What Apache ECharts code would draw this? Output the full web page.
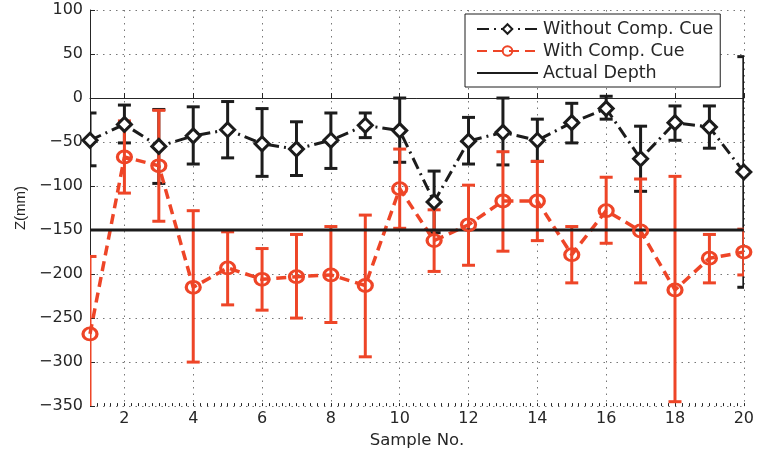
<!DOCTYPE html>
<html><head><meta charset="utf-8">
<script src="https://cdn.jsdelivr.net/npm/echarts@6/dist/echarts.min.js"></script>
<style>html,body{margin:0;padding:0;background:#fff}#c{width:757px;height:454px}</style>
</head><body><div id="c"></div>
<script>
const samples = [1,2,3,4,5,6,7,8,9,10,11,12,13,14,15,16,17,18,19,20];
const withoutMean = [-48,-30,-55,-43,-36,-52,-58,-48,-31,-37,-118,-49,-39,-48,-28,-12,-69,-28,-33,-84];
const withoutLow  = [-77,-51,-97,-75,-68,-89,-88,-80,-45,-73,-153,-75,-76,-72,-51,-24,-106,-48,-57,-215];
const withoutHigh = [-17,-8,-13,-10,-4,-12,-27,-17,-17,0,-83,-22,0,-24,-6,2,-32,-9,-9,47];
const withMean = [-268,-67,-77,-215,-193,-206,-203,-201,-213,-103,-162,-144,-117,-117,-178,-128,-151,-218,-182,-175];
const withLow  = [-356,-108,-140,-300,-235,-241,-250,-255,-294,-148,-197,-190,-174,-162,-210,-165,-210,-345,-210,-201];
const withHigh = [-180,-26,-14,-128,-152,-171,-155,-146,-133,-58,-127,-99,-61,-72,-146,-90,-92,-89,-155,-149];
const depthX = [1, 20];
const depthY = [-150, -150];
const xTickValues = [2,4,6,8,10,12,14,16,18,20];
const seriesNames = ['Without Comp. Cue', 'With Comp. Cue', 'Actual Depth'];

const BLACK = '#1c1c1c';
const RED = '#ee4527';
const FONT = 'DejaVu Sans';
const TXT = '#262626';

function errRender(color) {
  return function (params, api) {
    const x = api.value(0), lo = api.value(1), hi = api.value(2);
    const p1 = api.coord([x, hi]), p2 = api.coord([x, lo]);
    const w = 6.5;
    const st = { stroke: color, lineWidth: 3, fill: null };
    return { type: 'group', children: [
      { type: 'line', shape: { x1: p1[0], y1: p1[1], x2: p2[0], y2: p2[1] }, style: st },
      { type: 'line', shape: { x1: p1[0] - w, y1: p1[1], x2: p1[0] + w, y2: p1[1] }, style: st },
      { type: 'line', shape: { x1: p2[0] - w, y1: p2[1], x2: p2[0] + w, y2: p2[1] }, style: st }
    ]};
  };
}

const pair = (xs, ys) => xs.map((x, i) => [x, ys[i]]);
const triple = (xs, lo, hi) => xs.map((x, i) => [x, lo[i], hi[i]]);

const chart = echarts.init(document.getElementById('c'), null, { renderer: 'canvas' });
chart.setOption({
  animation: false,
  backgroundColor: '#fff',
  grid: { left: 90, right: 13, top: 10, bottom: 43.5, containLabel: false },
  legend: {
    data: [
      { name: seriesNames[0] },
      { name: seriesNames[1] },
      { name: seriesNames[2], itemStyle: { opacity: 0 } }
    ],
    orient: 'vertical',
    left: 465, top: 14,
    padding: [6, 7, 5, 11],
    itemGap: 4,
    itemWidth: 61, itemHeight: 12,
    borderColor: BLACK, borderWidth: 1, backgroundColor: '#fff',
    textStyle: { fontFamily: FONT, fontSize: 17.5, color: TXT, lineHeight: 18 }
  },
  xAxis: [{
    type: 'value', min: 1, max: 20,
    name: 'Sample No.', nameLocation: 'middle', nameGap: 24,
    nameTextStyle: { fontFamily: FONT, fontSize: 16.5, color: TXT },
    axisLine: { show: true, lineStyle: { color: TXT, width: 1 } },
    axisTick: { show: true, inside: true, length: 5, customValues: xTickValues, lineStyle: { color: TXT } },
    axisLabel: { customValues: xTickValues, margin: 5, fontFamily: FONT, fontSize: 16, color: TXT },
    splitLine: { show: true, lineStyle: { color: '#777', type: [1.5, 5], width: 1 } }
  }, {
    type: 'value', min: 1, max: 20, interval: 0.2, position: 'bottom',
    axisLine: { show: false },
    axisTick: { show: true, inside: true, length: 3, lineStyle: { color: TXT } },
    axisLabel: { show: false },
    splitLine: { show: false }
  }],
  yAxis: {
    type: 'value', min: -350, max: 100, interval: 50,
    name: 'Z(mm)', nameLocation: 'middle', nameGap: 62,
    nameTextStyle: { fontFamily: 'Liberation Sans', fontSize: 15, color: TXT, padding: [0, 0, 0, 0] },
    axisLine: { show: true, lineStyle: { color: TXT, width: 1 } },
    axisTick: { show: true, inside: true, length: 5, lineStyle: { color: TXT } },
    axisLabel: { margin: 7, fontFamily: FONT, fontSize: 16, color: TXT,
      formatter: v => String(v).replace('-', '\u2212') },
    splitLine: { show: true, lineStyle: { color: '#777', type: [1.5, 5], width: 1 } }
  },
  series: [
    { name: 'errWithout', type: 'custom', clip: true, renderItem: errRender(BLACK),
      data: triple(samples, withoutLow, withoutHigh), encode: { x: 0, y: [1, 2] } },
    { name: seriesNames[0], type: 'line', data: pair(samples, withoutMean),
      symbol: 'diamond', symbolSize: [14, 14],
      itemStyle: { color: '#fff', borderColor: BLACK, borderWidth: 3 },
      lineStyle: { color: BLACK, width: 3, type: [12, 5, 2, 5] } },
    { name: 'errWith', type: 'custom', clip: true, renderItem: errRender(RED),
      data: triple(samples, withLow, withHigh), encode: { x: 0, y: [1, 2] } },
    { name: seriesNames[1], type: 'line', data: pair(samples, withMean),
      symbol: 'circle', symbolSize: [14, 12],
      itemStyle: { color: 'rgba(255,255,255,0)', borderColor: RED, borderWidth: 3 },
      lineStyle: { color: RED, width: 3.5, type: [10, 6] } },
    { name: seriesNames[2], type: 'line', data: pair(depthX, depthY),
      symbol: 'none', lineStyle: { color: BLACK, width: 3, type: 'solid' },
      itemStyle: { color: BLACK } }
  ]
});
</script>
</body></html>
